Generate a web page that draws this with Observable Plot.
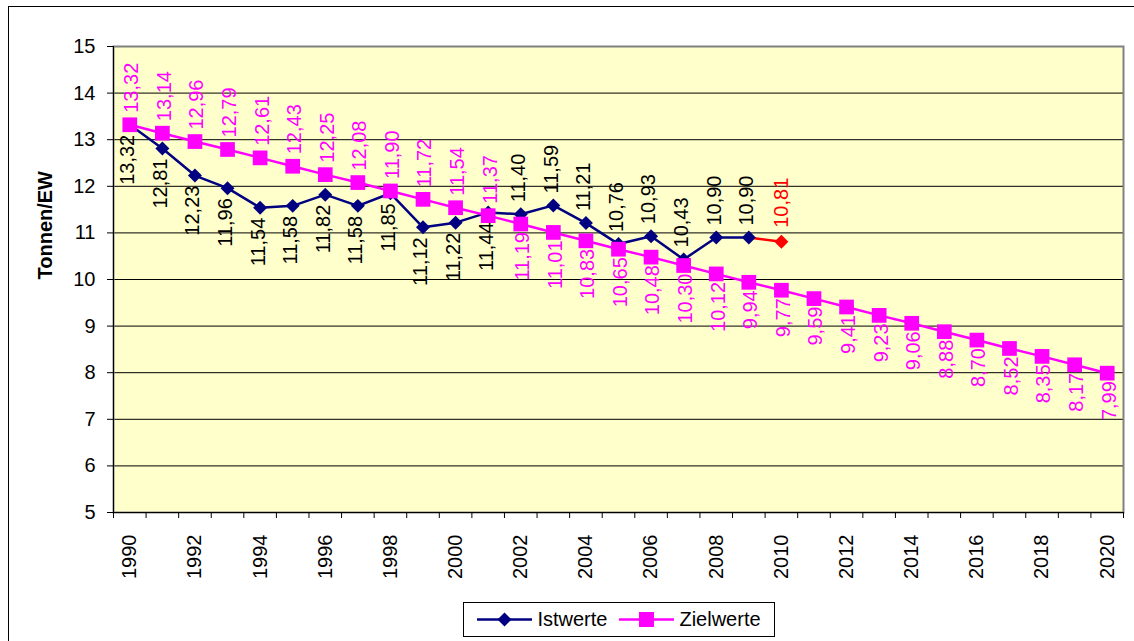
<!DOCTYPE html>
<html>
<head>
<meta charset="utf-8">
<script src="https://cdn.jsdelivr.net/npm/d3@7"></script>
<script src="https://cdn.jsdelivr.net/npm/@observablehq/plot@0.6"></script>
<style>
  html, body { margin: 0; padding: 0; background: #fff; overflow: hidden; width: 1134px; height: 641px; }
  #wrap { position: relative; width: 1134px; height: 641px; font-family: "Liberation Sans", Arial, sans-serif; }
  #outer { position: absolute; left: 8px; top: 6px; width: 1200px; height: 700px; border: 1px solid #000; box-sizing: border-box; pointer-events: none; }
  #chart { position: absolute; left: 0; top: 0; }
  #legend { position: absolute; left: 463px; top: 602px; width: 312px; height: 35px; box-sizing: border-box; border: 1px solid #000; background: #fff;
            display: flex; align-items: center; justify-content: center; font-size: 20px; color: #000; }
  #legend .item { display: flex; align-items: center; }
  #legend svg { display: block; }
</style>
</head>
<body>
<div id="wrap">
  <div id="outer"></div>
  <div id="chart"></div>
  <div id="legend"></div>
</div>
<script>
// ---- Data ----
const years = [1990, 1991, 1992, 1993, 1994, 1995, 1996, 1997, 1998, 1999, 2000,
               2001, 2002, 2003, 2004, 2005, 2006, 2007, 2008, 2009, 2010,
               2011, 2012, 2013, 2014, 2015, 2016, 2017, 2018, 2019, 2020];
const istYears = [1990, 1991, 1992, 1993, 1994, 1995, 1996, 1997, 1998, 1999,
                  2000, 2001, 2002, 2003, 2004, 2005, 2006, 2007, 2008, 2009];
const istwerte = [13.32, 12.81, 12.23, 11.96, 11.54, 11.58, 11.82, 11.58, 11.85, 11.12,
                  11.22, 11.44, 11.40, 11.59, 11.21, 10.76, 10.93, 10.43, 10.90, 10.90];
const prognoseYears = [2009, 2010];
const prognoseWerte = [10.90, 10.81];
const zielwerte = [13.32, 13.14, 12.96, 12.79, 12.61, 12.43, 12.25, 12.08, 11.90, 11.72, 11.54,
                   11.37, 11.19, 11.01, 10.83, 10.65, 10.48, 10.30, 10.12, 9.94, 9.77,
                   9.59, 9.41, 9.23, 9.06, 8.88, 8.70, 8.52, 8.35, 8.17, 7.99];
const yTicks = [5, 6, 7, 8, 9, 10, 11, 12, 13, 14, 15];
const xTickLabels = [1990, 1992, 1994, 1996, 1998, 2000, 2002, 2004, 2006, 2008, 2010,
                     2012, 2014, 2016, 2018, 2020];
const seriesNames = ["Istwerte", "Zielwerte"];
const yLabel = "Tonnen/EW";

// ---- Tables ----
const ist = istYears.map((year, i) => ({year, value: istwerte[i]}));
const prog = prognoseYears.map((year, i) => ({year, value: prognoseWerte[i]}));
const ziel = years.map((year, i) => ({year, value: zielwerte[i]}));
const fmt = v => v.toFixed(2).replace(".", ",");

const NAVY = "#000080", MAGENTA = "#FF00FF", RED = "#FF0000";
const switchYear = 2002;
const boundaries = years.map(y => y - 0.5).concat([years[years.length - 1] + 0.5]);

const chart = Plot.plot({
  width: 1134,
  height: 595,
  marginLeft: 113,
  marginRight: 11,
  marginTop: 46,
  marginBottom: 83,
  style: {fontFamily: "'Liberation Sans', Arial, sans-serif", fontSize: "20px", background: "transparent", color: "#000", overflow: "visible"},
  x: {domain: [boundaries[0], boundaries[boundaries.length - 1]]},
  y: {domain: [5, 15]},
  marks: [
    Plot.frame({fill: "#FFFFCC", stroke: "none"}),
    Plot.gridY(yTicks.slice(1, -1), {stroke: "#000", strokeOpacity: 1, strokeWidth: 1}),
    Plot.frame({stroke: "#808080", strokeWidth: 2}),
    Plot.ruleX([boundaries[0]], {stroke: "#000", strokeWidth: 1}),
    Plot.ruleY([5], {stroke: "#000", strokeWidth: 1}),
    Plot.axisY({ticks: yTicks, tickSize: 6, tickPadding: 12, tickFormat: d => String(d), label: null, fontSize: 20, stroke: "#000"}),
    Plot.axisX({ticks: boundaries, tickSize: 6, tickFormat: () => "", label: null, stroke: "#000"}),
    Plot.axisX({ticks: xTickLabels, tickSize: 0, tickRotate: -90, tickPadding: 22, tickFormat: d => String(d), label: null, fontSize: 20}),
    Plot.text([yLabel], {frameAnchor: "left", dx: -68, rotate: -90, fontWeight: "bold", fontSize: 20, fill: "#000"}),

    // Istwerte
    Plot.line(prog, {x: "year", y: "value", stroke: RED, strokeWidth: 2.5}),
    Plot.line(ist, {x: "year", y: "value", stroke: NAVY, strokeWidth: 2.5}),
    Plot.dot(ist, {x: "year", y: "value", symbol: "diamond2", r: 6.3, fill: NAVY, stroke: "none"}),
    Plot.dot(prog.slice(1), {x: "year", y: "value", symbol: "diamond2", r: 6.3, fill: RED, stroke: "none"}),

    // Zielwerte
    Plot.line(ziel, {x: "year", y: "value", stroke: MAGENTA, strokeWidth: 2.5}),
    Plot.dot(ziel, {x: "year", y: "value", symbol: "square", r: 8.3, fill: MAGENTA, stroke: "none"}),

    // Labels Istwerte
    Plot.text(ist.filter(d => d.year < switchYear), {x: "year", y: "value", text: d => fmt(d.value), rotate: -90, textAnchor: "end", lineAnchor: "middle", dy: 10, dx: -2, fill: "#000", fontSize: 20}),
    Plot.text(ist.filter(d => d.year >= switchYear), {x: "year", y: "value", text: d => fmt(d.value), rotate: -90, textAnchor: "start", lineAnchor: "middle", dy: -12, dx: -2, fill: "#000", fontSize: 20}),
    Plot.text(prog.slice(1), {x: "year", y: "value", text: d => fmt(d.value), rotate: -90, textAnchor: "start", lineAnchor: "middle", dy: -14, fill: RED, fontSize: 20}),

    // Labels Zielwerte
    Plot.text(ziel.filter(d => d.year < switchYear), {x: "year", y: "value", text: d => fmt(d.value), rotate: -90, textAnchor: "start", lineAnchor: "middle", dy: -12, dx: 2, fill: MAGENTA, fontSize: 20}),
    Plot.text(ziel.filter(d => d.year >= switchYear), {x: "year", y: "value", text: d => fmt(d.value), rotate: -90, textAnchor: "end", lineAnchor: "middle", dy: 8, dx: 2, fill: MAGENTA, fontSize: 20})
  ]
});
document.getElementById("chart").appendChild(chart);

// ---- Legend ----
const legend = document.getElementById("legend");
const swatch = (color, shape) => {
  const marker = shape === "diamond"
    ? `<path d="M27.5,1.5 L34.5,8.5 L27.5,15.5 L20.5,8.5 Z" fill="${color}"/>`
    : `<rect x="20" y="1" width="15" height="15" fill="${color}"/>`;
  return `<svg width="55" height="17"><line x1="0" x2="55" y1="8.5" y2="8.5" stroke="${color}" stroke-width="2.5"/>${marker}</svg>`;
};
legend.innerHTML =
  `<div class="item">${swatch(NAVY, "diamond")}<span style="margin-left:5px">${seriesNames[0]}</span></div>` +
  `<div class="item" style="margin-left:12px">${swatch(MAGENTA, "square")}<span style="margin-left:5px">${seriesNames[1]}</span></div>`;
</script>
</body>
</html>
